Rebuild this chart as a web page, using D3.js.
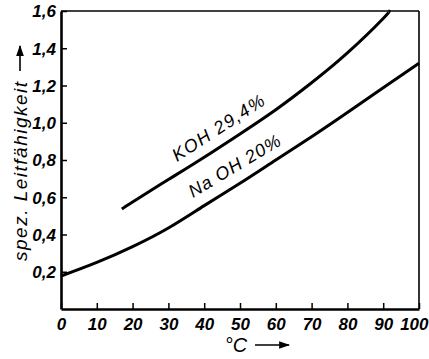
<!DOCTYPE html>
<html><head><meta charset="utf-8">
<script src="https://cdn.jsdelivr.net/npm/d3@7/dist/d3.min.js"></script>
<style>body{margin:0;background:#fff}svg{display:block}</style>
</head><body>
<script>
const xTicks = [0,10,20,30,40,50,60,70,80,90,100];
const yTicks = [0.2,0.4,0.6,0.8,1.0,1.2,1.4,1.6];
const kohT = [17,20,30,40,50,60,70,80,90,91.5];
const kohV = [0.537,0.575,0.695,0.815,0.94,1.07,1.215,1.375,1.56,1.60];
const naohT = [0,10,20,30,40,50,60,70,80,90,100];
const naohV = [0.177,0.25,0.335,0.435,0.555,0.675,0.80,0.925,1.055,1.188,1.32];

const W=429,H=359;
const svg=d3.select("body").append("svg").attr("width",W).attr("height",H);
const x=d3.scaleLinear().domain([0,100]).range([61,419]);
const y=d3.scaleLinear().domain([0,1.6]).range([309,11]);
const font="'Liberation Sans', Arial, sans-serif";

// frame
svg.append("line").attr("x1",x(0)).attr("x2",x(100)).attr("y1",y(1.6)).attr("y2",y(1.6)).attr("stroke","#000").attr("stroke-width",1.4);
svg.append("line").attr("x1",x(100)).attr("x2",x(100)).attr("y1",y(1.6)).attr("y2",y(0)).attr("stroke","#000").attr("stroke-width",1.6);

const xa=svg.append("g").attr("transform",`translate(0,${y(0)})`)
  .call(d3.axisBottom(x).tickValues(xTicks).tickSizeInner(-6).tickSizeOuter(0).tickPadding(9).tickFormat(d=>d));
const ya=svg.append("g").attr("transform",`translate(${x(0)},0)`)
  .call(d3.axisLeft(y).tickValues(yTicks).tickSizeInner(-6).tickSizeOuter(0).tickPadding(5).tickFormat(d=>d3.format(".1f")(d).replace(".",",")));
[xa,ya].forEach(g=>{
  g.select(".domain").attr("stroke","#000").attr("stroke-width",2.6);
  g.selectAll(".tick line").attr("stroke","#000").attr("stroke-width",1.5);
  g.selectAll("text").attr("fill","#000").style("font-family",font).style("font-style","italic").style("font-weight","bold").style("font-size","17px");
});
xa.selectAll("text").attr("dy","0.71em");
xa.selectAll(".tick").filter(d=>d===100).select("text").attr("text-anchor","end").attr("x",9);
ya.selectAll("text").attr("dy","0.35em");

const line=d3.line().curve(d3.curveNatural);
svg.append("path").attr("d",line(kohT.map((t,i)=>[x(t),y(kohV[i])]))).attr("fill","none").attr("stroke","#000").attr("stroke-width",3);
svg.append("path").attr("d",line(naohT.map((t,i)=>[x(t),y(naohV[i])]))).attr("fill","none").attr("stroke","#000").attr("stroke-width",3);

// curve labels
svg.append("text").attr("transform","translate(177,162) rotate(-33)").text("KOH 29,4%")
  .style("font-family",font).style("font-style","italic").style("font-size","18px").attr("letter-spacing","1.4");
svg.append("text").attr("transform","translate(193,198) rotate(-31)").text("Na OH 20%")
  .style("font-family",font).style("font-style","italic").style("font-size","18px").attr("letter-spacing","1");

// y axis title
svg.append("text").attr("transform","translate(27,261) rotate(-90)").text("spez. Leitfähigkeit")
  .style("font-family",font).style("font-style","italic").style("font-size","19px").attr("letter-spacing","1.5");
const defs=svg.append("defs");
defs.append("marker").attr("id","ah").attr("viewBox","0 0 10 10").attr("refX",9).attr("refY",5)
  .attr("markerWidth",11).attr("markerHeight",11).attr("markerUnits","userSpaceOnUse").attr("orient","auto")
  .append("path").attr("d","M0,1.5L10,5L0,8.5Z").attr("fill","#000");
svg.append("line").attr("x1",20).attr("x2",20).attr("y1",71).attr("y2",46).attr("stroke","#000").attr("stroke-width",1.6).attr("marker-end","url(#ah)");

// x axis title
svg.append("text").attr("x",236).attr("y",352).attr("text-anchor","middle").text("°C")
  .style("font-family",font).style("font-style","italic").style("font-size","20px");
svg.append("line").attr("x1",255).attr("x2",289).attr("y1",345).attr("y2",345).attr("stroke","#000").attr("stroke-width",1.6).attr("marker-end","url(#ah)");
</script>
</body></html>
